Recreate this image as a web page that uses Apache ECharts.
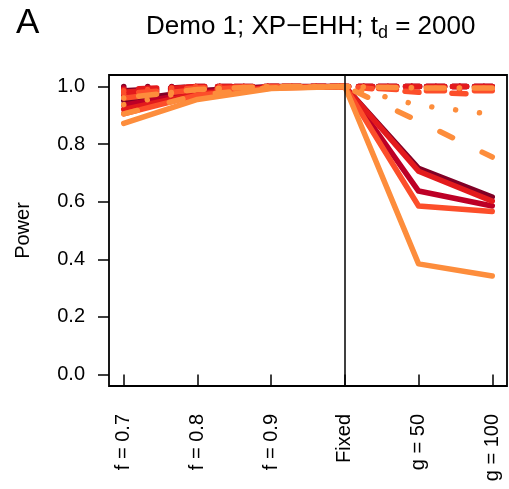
<!DOCTYPE html>
<html>
<head>
<meta charset="utf-8">
<script src="https://cdn.jsdelivr.net/npm/echarts@6/dist/echarts.min.js"></script>
<style>html,body{margin:0;padding:0;background:#fff;}#c{width:509px;height:489px;}</style>
</head>
<body>
<div id="c"></div>
<script>
const categories = ['f = 0.7', 'f = 0.8', 'f = 0.9', 'Fixed', 'g = 50', 'g = 100'];
const yTicks = [0, 0.2, 0.4, 0.6, 0.8, 1.0];
const colors = ['#800026', '#bd0026', '#e31a1c', '#fc4e2a', '#fd8d3c'];

// solid lines
const solid1 = [0.95, 0.985, 1.0, 1.0, 0.716, 0.616];
const solid2 = [0.935, 0.98, 0.998, 1.0, 0.637, 0.585];
const solid3 = [0.92, 0.975, 0.997, 1.0, 0.706, 0.602];
const solid4 = [0.905, 0.97, 0.995, 1.0, 0.585, 0.566];
const solid5 = [0.872, 0.955, 0.993, 1.0, 0.384, 0.342];
// dashed lines
const dashed1 = [0.985, 1.0, 1.0, 1.0, 1.0, 1.0];
const dashed2 = [0.975, 0.995, 1.0, 1.0, 1.0, 1.0];
const dashed3 = [0.98, 1.0, 1.0, 1.0, 1.0, 1.0];
const dashed4 = [0.96, 0.99, 1.0, 1.0, 0.98, 0.972];
const dashed5 = [0.905, 0.97, 0.995, 1.0, 0.88, 0.755];
// dotted lines
const dotted1 = [1.0, 1.0, 1.0, 1.0, 1.0, 1.0];
const dotted2 = [0.995, 1.0, 1.0, 1.0, 1.0, 1.0];
const dotted3 = [0.99, 1.0, 1.0, 1.0, 1.0, 1.0];
const dotted4 = [0.985, 1.0, 1.0, 1.0, 0.995, 0.995];
const dotted5 = [0.937, 0.99, 1.0, 1.0, 0.935, 0.903];
// dot-dash lines
const dotdash1 = [0.98, 1.0, 1.0, 1.0, 1.0, 1.0];
const dotdash2 = [0.97, 0.995, 1.0, 1.0, 1.0, 1.0];
const dotdash3 = [0.99, 1.0, 1.0, 1.0, 1.0, 1.0];
const dotdash4 = [0.975, 0.995, 1.0, 1.0, 0.985, 0.985];
const dotdash5 = [0.96, 0.99, 1.0, 1.0, 0.995, 0.995];

const groups = [
  [solid1, dashed1, dotted1, dotdash1],
  [solid2, dashed2, dotted2, dotdash2],
  [solid3, dashed3, dotted3, dotdash3],
  [solid4, dashed4, dotted4, dotdash4],
  [solid5, dashed5, dotted5, dotdash5]
];
const lineTypes = ['solid', [14, 33], [0.01, 24], [0.01, 15, 18, 15]];

const FONT = 'Liberation Sans, Arial, Helvetica, sans-serif';
const series = [];
groups.forEach((g, ci) => {
  g.forEach((vals, li) => {
    series.push({
      type: 'line',
      data: vals.map((v, i) => [i + 1, v]),
      showSymbol: false,
      symbol: 'none',
      silent: true,
      lineStyle: { color: colors[ci], width: 5.5, type: lineTypes[li], cap: 'round', join: 'round' }
    });
  });
});
series.push({
  type: 'line', data: [], silent: true,
  markLine: {
    symbol: 'none', silent: true, label: { show: false },
    lineStyle: { color: '#000', width: 1.5, type: 'solid' },
    data: [{ xAxis: 4 }]
  }
});

const chart = echarts.init(document.getElementById('c'), null, { renderer: 'canvas' });
chart.setOption({
  animation: false,
  backgroundColor: '#fff',
  title: [
    {
      text: '{a|Demo 1; XP\u2212EHH; t}{s|d}{a| = 2000}',
      left: 141, top: 7,
      textStyle: {
        rich: {
          a: { fontFamily: FONT, fontSize: 26, fontWeight: 'normal', color: '#000' },
          s: { fontFamily: FONT, fontSize: 18, fontWeight: 'normal', color: '#000', verticalAlign: 'bottom', padding: [12, 0, 0, 0] }
        }
      }
    },
    { text: 'A', left: 11, top: 1, textStyle: { fontFamily: FONT, fontSize: 35, fontWeight: 'normal', color: '#000' } }
  ],
  grid: { left: 109, right: 2, top: 75, bottom: 103, show: true, borderColor: '#000', borderWidth: 1.8, backgroundColor: 'transparent' },
  xAxis: {
    type: 'value', min: 0.8, max: 6.2,
    axisLine: { show: false },
    splitLine: { show: false },
    axisTick: { show: true, inside: false, length: 11, lineStyle: { color: '#000', width: 1.5 }, customValues: [1, 2, 3, 4, 5, 6] },
    axisLabel: {
      customValues: [1, 2, 3, 4, 5, 6],
      rotate: 90, margin: 28, color: '#000', fontFamily: FONT, fontSize: 20,
      formatter: v => categories[Math.round(v) - 1]
    }
  },
  yAxis: {
    type: 'value', min: -0.04, max: 1.04,
    name: 'Power', nameLocation: 'middle', nameGap: 76, nameRotate: 90,
    nameTextStyle: { fontFamily: FONT, fontSize: 20, color: '#000' },
    axisLine: { show: false },
    splitLine: { show: false },
    axisTick: { show: true, inside: false, length: 11, lineStyle: { color: '#000', width: 1.5 }, customValues: yTicks },
    axisLabel: {
      customValues: yTicks, margin: 24, color: '#000', fontFamily: FONT, fontSize: 20,
      formatter: v => v.toFixed(1)
    }
  },
  series: series
});
</script>
</body>
</html>
